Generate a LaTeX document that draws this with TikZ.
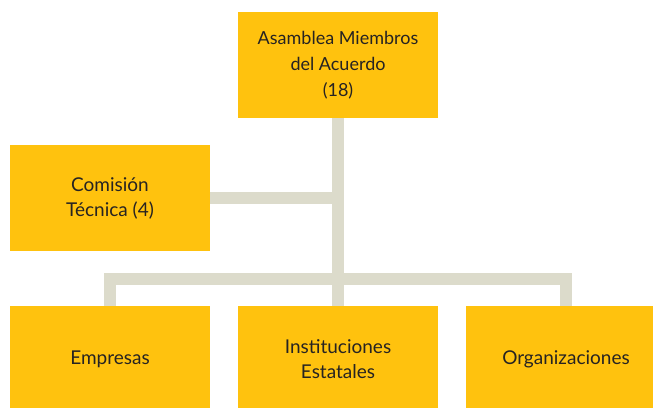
\documentclass[tikz,border=0pt]{standalone}
\usepackage{fontspec}
\setmainfont{Lato}
\usepackage{xcolor}
\definecolor{OrgYellow}{HTML}{FFC20E}
\definecolor{OrgLine}{HTML}{DCDBCB}
\definecolor{OrgText}{HTML}{262322}
\tikzstyle{orgBox}=[fill=OrgYellow,minimum width=200pt,minimum height=106pt,inner sep=0pt,align=center,text=OrgText,font=\fontsize{19}{25}\selectfont]
\tikzstyle{orgLink}=[draw=OrgLine,line width=12pt,line join=miter]

\begin{document}
\begin{tikzpicture}[x=1pt,y=-1pt]

        \useasboundingbox (0,0) rectangle (653,407);
        \clip (0,0) rectangle (653,407);

        % Boxes
        \node[orgBox,font=\fontsize{18}{26}\selectfont] (asamblea) at (338, 65) {Asamblea Miembros\\del Acuerdo\\(18)};
        \node[orgBox] (comision) at (110, 198) {Comisión\\Técnica (4)};
        \node[orgBox] (empresas) at (110, 359) {Empresas};
        \node[orgBox] (instituciones) at (338, 359) {Instituciones\\Estatales};
        \node[orgBox] (organizaciones) at (566, 359) {Organizaciones};

        % Links
        \draw[orgLink] (asamblea.south) -- (instituciones.north);
        \draw[orgLink] (comision.east) -- (comision -| asamblea);
        \draw[orgLink] (empresas.north) -- ++(0,-27) -| (organizaciones.north);

\end{tikzpicture}
\end{document}
